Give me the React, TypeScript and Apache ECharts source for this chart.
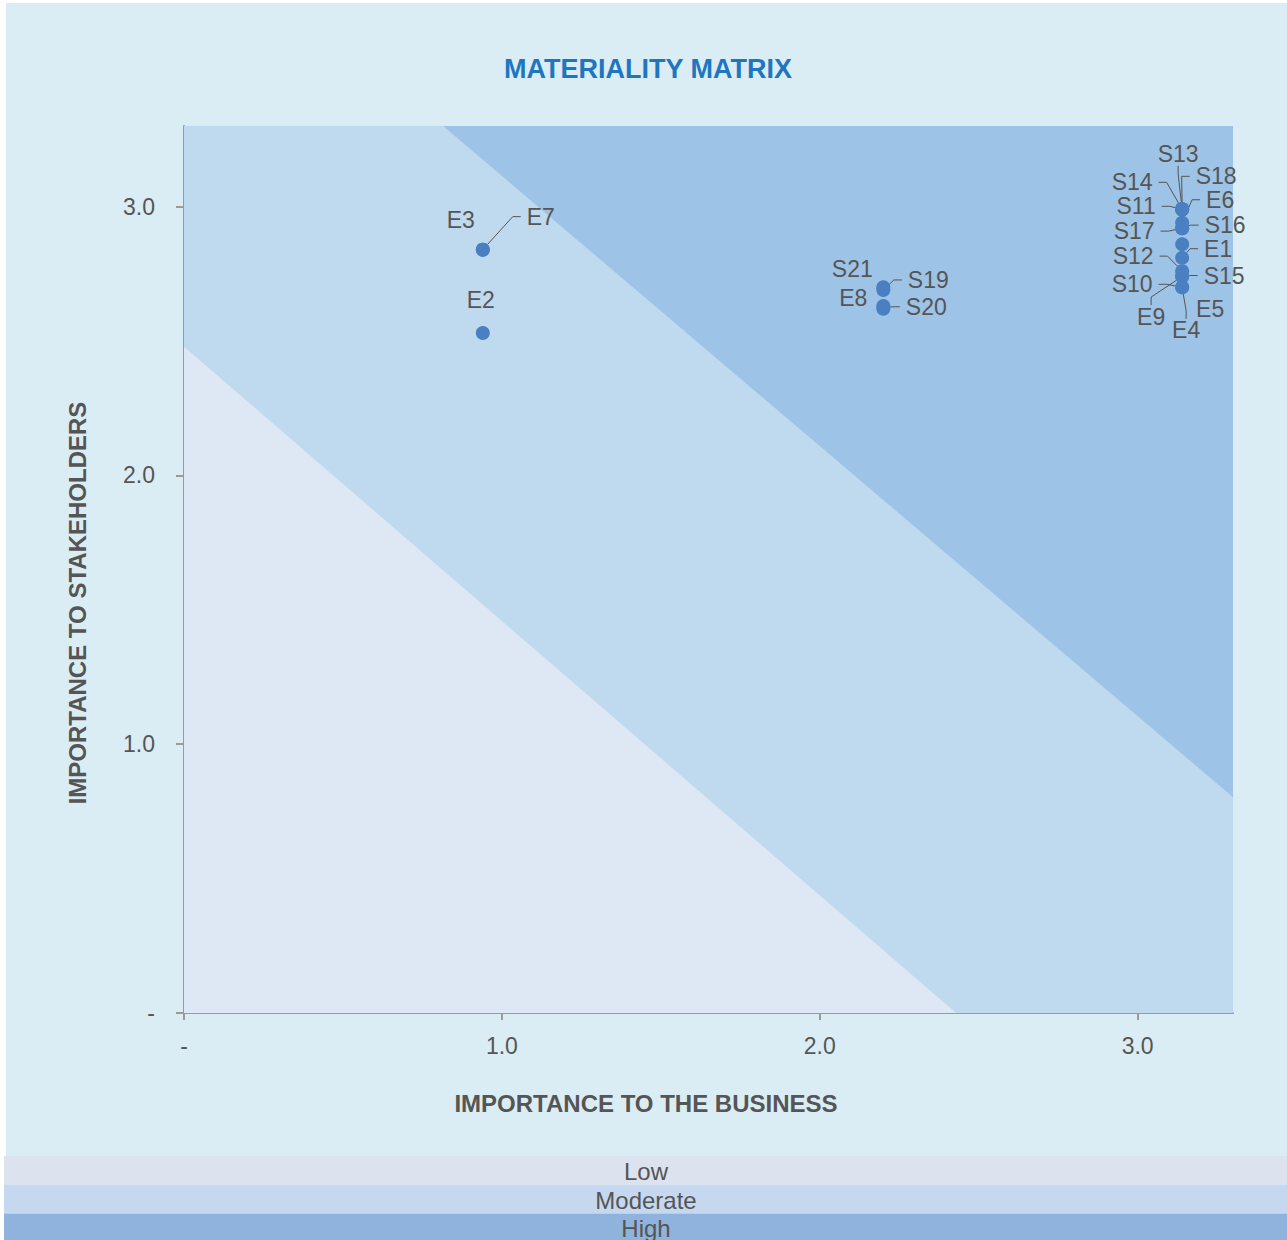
import { useEffect, useRef } from "react";
import * as echarts from "echarts";

const FONT = "'Liberation Sans', Arial, Helvetica, sans-serif";
const TEXT_COLOR = "#555555";
const AXIS_COLOR = "#9a9a9a";

// Topics scored on importance to the business (x) and to stakeholders (y)
const topics = [
  "E3", "E7", "E2",
  "S21", "S19", "E8", "S20",
  "S13", "S14", "S18", "S11", "E6", "S16", "S17", "E5", "E1", "S12", "S15", "E9", "S10", "E4",
];
const businessImportance = [
  0.94, 0.94, 0.94,
  2.2, 2.2, 2.2, 2.2,
  3.14, 3.14, 3.14, 3.14, 3.14, 3.14, 3.14, 3.14, 3.14, 3.14, 3.14, 3.14, 3.14, 3.14,
];
const stakeholderImportance = [
  2.84, 2.84, 2.53,
  2.7, 2.69, 2.63, 2.62,
  2.99, 2.99, 2.99, 2.99, 2.94, 2.92, 2.92, 2.86, 2.81, 2.76, 2.74, 2.74, 2.7, 2.7,
];

const axisTickValues = [0, 1, 2, 3];
const axisMax = 3.3;

const zoneNames = ["Low", "Moderate", "High"];
// Axis intercepts [x, y] of the Low/Moderate and Moderate/High boundaries
const lowModerateBoundary = [2.43, 2.48];
const moderateHighBoundary = [4.1, 4.12];

// Styling
const zoneColors = ["#dde8f4", "#bfd9ee", "#9dc3e6"];
const legendColors = ["#dce3ee", "#c5d8ef", "#8fb3dd"];
const dotColor = "#4a7fc2";

// Label placement around each dot (px from the dot centre)
const labelOffsets: Record<string, [number, number]> = {
  E3: [-22, -30], E7: [58, -33], E2: [-2, -33],
  S21: [-31, -18], S19: [45, -10], E8: [-30, -8], S20: [43, -2],
  S13: [-4, -55], S14: [-50, -27], S18: [34, -33], S11: [-46, -3],
  E6: [38, -23], S16: [43, -3], S17: [-48, 3], E5: [28, 65],
  E1: [36, -9], S12: [-49, -15], S15: [42, -1], E9: [-31, 40],
  S10: [-50, -3], E4: [4, 43],
};
const labelsWithoutLeader = new Set(["E3", "E2", "S21", "E8", "E5"]);

type Pt = [number, number];

// Keep the part of a polygon on one side of the line x/a + y/b = 1
function clipPolygon(poly: Pt[], a: number, b: number, keepBelow: boolean): Pt[] {
  const side = (p: Pt) => (p[0] / a + p[1] / b - 1) * (keepBelow ? -1 : 1);
  const out: Pt[] = [];
  for (let i = 0; i < poly.length; i++) {
    const cur = poly[i];
    const next = poly[(i + 1) % poly.length];
    const sc = side(cur);
    const sn = side(next);
    if (sc >= 0) out.push(cur);
    if ((sc >= 0 && sn < 0) || (sc < 0 && sn >= 0)) {
      const t = sc / (sc - sn);
      out.push([cur[0] + t * (next[0] - cur[0]), cur[1] + t * (next[1] - cur[1])]);
    }
  }
  return out;
}

const plotSquare: Pt[] = [[0, 0], [axisMax, 0], [axisMax, axisMax], [0, axisMax]];
const zonePolygons: Pt[][] = [
  clipPolygon(plotSquare, lowModerateBoundary[0], lowModerateBoundary[1], true),
  clipPolygon(
    clipPolygon(plotSquare, lowModerateBoundary[0], lowModerateBoundary[1], false),
    moderateHighBoundary[0], moderateHighBoundary[1], true
  ),
  clipPolygon(plotSquare, moderateHighBoundary[0], moderateHighBoundary[1], false),
];

const tickLabel = (v: number) => (v === 0 ? "-" : v.toFixed(1));

export default function App() {
  const ref = useRef<HTMLDivElement>(null);

  useEffect(() => {
    document.body.style.margin = "0";
    if (!ref.current) return;
    const chart = echarts.init(ref.current, undefined, { renderer: "svg" });

    const legendBands = zoneNames.map((name, i) => {
      const tops = [1156, 1184.5, 1213.5];
      const bottoms = [1184.5, 1213.5, 1240];
      const textY = [1171, 1200, 1228];
      return [
        {
          type: "rect",
          shape: { x: 4, y: tops[i], width: 1283, height: bottoms[i] - tops[i] },
          style: { fill: legendColors[i] },
          silent: true,
        },
        {
          type: "text",
          x: 646,
          y: textY[i],
          style: {
            text: name,
            fill: TEXT_COLOR,
            font: `24px ${FONT}`,
            align: "center",
            verticalAlign: "middle",
          },
          silent: true,
        },
      ];
    }).flat();

    chart.setOption({
      animation: false,
      backgroundColor: "transparent",
      textStyle: { fontFamily: FONT },
      grid: { left: 184, top: 126, width: 1049, height: 887, containLabel: false },
      xAxis: {
        type: "value",
        min: 0,
        max: axisMax,
        interval: 1,
        splitLine: { show: false },
        axisLine: { show: true, lineStyle: { color: AXIS_COLOR, width: 2 } },
        axisTick: {
          show: true,
          length: 7,
          customValues: axisTickValues,
          lineStyle: { color: AXIS_COLOR, width: 2 },
        },
        axisLabel: {
          customValues: axisTickValues,
          formatter: tickLabel,
          fontSize: 23,
          color: TEXT_COLOR,
          fontFamily: FONT,
          margin: 21,
        },
      },
      yAxis: {
        type: "value",
        min: 0,
        max: axisMax,
        interval: 1,
        splitLine: { show: false },
        axisLine: { show: true, lineStyle: { color: AXIS_COLOR, width: 2 } },
        axisTick: {
          show: true,
          length: 8,
          customValues: axisTickValues,
          lineStyle: { color: AXIS_COLOR, width: 2 },
        },
        axisLabel: {
          customValues: axisTickValues,
          formatter: tickLabel,
          fontSize: 23,
          color: TEXT_COLOR,
          fontFamily: FONT,
          margin: 29,
        },
      },
      graphic: [
        {
          type: "text",
          x: 648,
          y: 69,
          style: {
            text: "MATERIALITY MATRIX",
            fill: "#1e76c0",
            font: `bold 27px ${FONT}`,
            align: "center",
            verticalAlign: "middle",
          },
          silent: true,
        },
        {
          type: "text",
          x: 646,
          y: 1103,
          style: {
            text: "IMPORTANCE TO THE BUSINESS",
            fill: TEXT_COLOR,
            font: `bold 24px ${FONT}`,
            align: "center",
            verticalAlign: "middle",
          },
          silent: true,
        },
        {
          type: "text",
          x: 77,
          y: 603,
          rotation: Math.PI / 2,
          style: {
            text: "IMPORTANCE TO STAKEHOLDERS",
            fill: TEXT_COLOR,
            font: `bold 24px ${FONT}`,
            align: "center",
            verticalAlign: "middle",
          },
          silent: true,
        },
        ...legendBands,
      ],
      series: [
        {
          type: "custom",
          name: "zones",
          silent: true,
          z: 1,
          clip: true,
          data: zoneNames.map((_, i) => i),
          renderItem: (params: any, api: any) => {
            const i = params.dataIndex;
            return {
              type: "polygon",
              shape: { points: zonePolygons[i].map((p) => api.coord(p)) },
              style: { fill: zoneColors[i], stroke: zoneColors[i], lineWidth: 0.5 },
            };
          },
        },
        {
          type: "scatter",
          z: 3,
          symbol: "circle",
          symbolSize: 14,
          itemStyle: { color: dotColor, opacity: 1 },
          emphasis: { disabled: true },
          data: topics.map((name, i) => ({
            name,
            value: [businessImportance[i], stakeholderImportance[i]],
            labelLine: { show: !labelsWithoutLeader.has(name) },
          })),
          label: {
            show: true,
            formatter: "{b}",
            fontSize: 23,
            lineHeight: 20,
            padding: [0, 6],
            color: TEXT_COLOR,
            fontFamily: FONT,
          },
          labelLine: {
            show: true,
            length2: 8,
            lineStyle: { color: "#555555", width: 1 },
          },
          labelLayout: (params: any) => {
            const name = topics[params.dataIndex];
            const [dx, dy] = labelOffsets[name] || [0, -30];
            const cx = params.rect.x + params.rect.width / 2;
            const cy = params.rect.y + params.rect.height / 2;
            return { x: cx + dx, y: cy + dy, align: "center", verticalAlign: "middle" };
          },
        },
      ],
    });

    return () => chart.dispose();
  }, []);

  return (
    <div style={{ position: "relative", width: 1287, height: 1240, background: "#ffffff" }}>
      <div
        style={{
          position: "absolute",
          left: 6,
          top: 3,
          width: 1281,
          height: 1153,
          background: "#dbedf4",
        }}
      />
      <div ref={ref} style={{ position: "absolute", left: 0, top: 0, width: 1287, height: 1240 }} />
    </div>
  );
}
